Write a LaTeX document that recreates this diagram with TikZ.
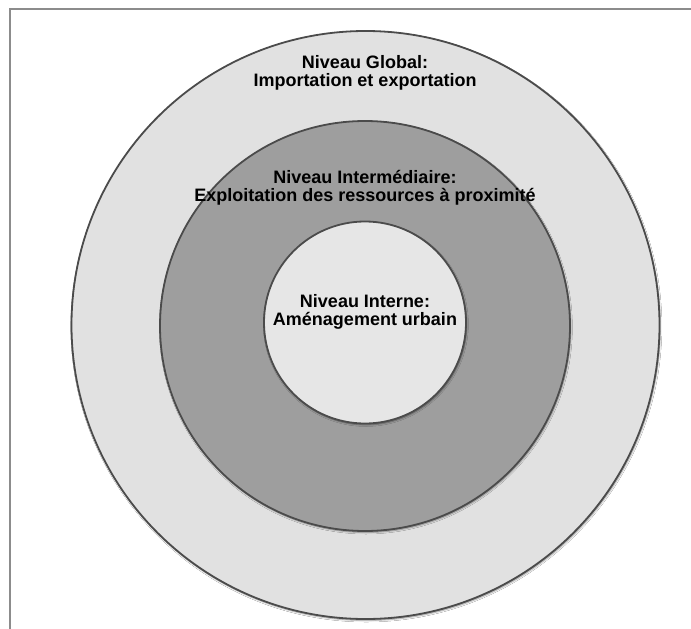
\documentclass[tikz,border=0pt]{standalone}
\usepackage{fontspec}
\setmainfont{Liberation Sans}
\usetikzlibrary{shadows.blur}
\definecolor{framegray}{RGB}{140,140,140}
\definecolor{ringline}{RGB}{75,75,75}
\definecolor{lightfill}{RGB}{225,225,225}
\definecolor{midfill}{RGB}{158,158,158}
\definecolor{corefill}{RGB}{230,230,230}
\begin{document}
\begin{tikzpicture}[x=1pt,y=-1pt,
  ring/.style={circle, draw=ringline, line width=1.8pt, inner sep=0pt,
    blur shadow={shadow xshift=0.8pt, shadow yshift=-1.4pt, shadow blur radius=1.6pt, shadow opacity=45}},
  label/.style={align=center, font=\fontsize{18}{18}\selectfont\bfseries, text=black}]
  \useasboundingbox (0,0) rectangle (691,629);
  \fill[white] (0,0) rectangle (691,629);
  % window frame: left and top edges
  \draw[framegray, line width=2pt] (10,629) -- (10,9) -- (691,9);
  % three nested levels
  \node[ring, fill=lightfill, minimum size=588pt] (global) at (365.5,325) {};
  \node[ring, fill=midfill, minimum size=410pt] (inter) at (365,326) {};
  \node[ring, fill=corefill, minimum size=202pt] (interne) at (365,322.5) {};
  % level captions
  \node[label] (tglobal) at (365,73) {Niveau Global:\\Importation et exportation};
  \node[label] (tinter) at (365,187.5) {Niveau Intermédiaire:\\Exploitation des ressources à proximité};
  \node[label] (tinterne) at (365,311.5) {Niveau Interne:\\Aménagement urbain};
\end{tikzpicture}
\end{document}
